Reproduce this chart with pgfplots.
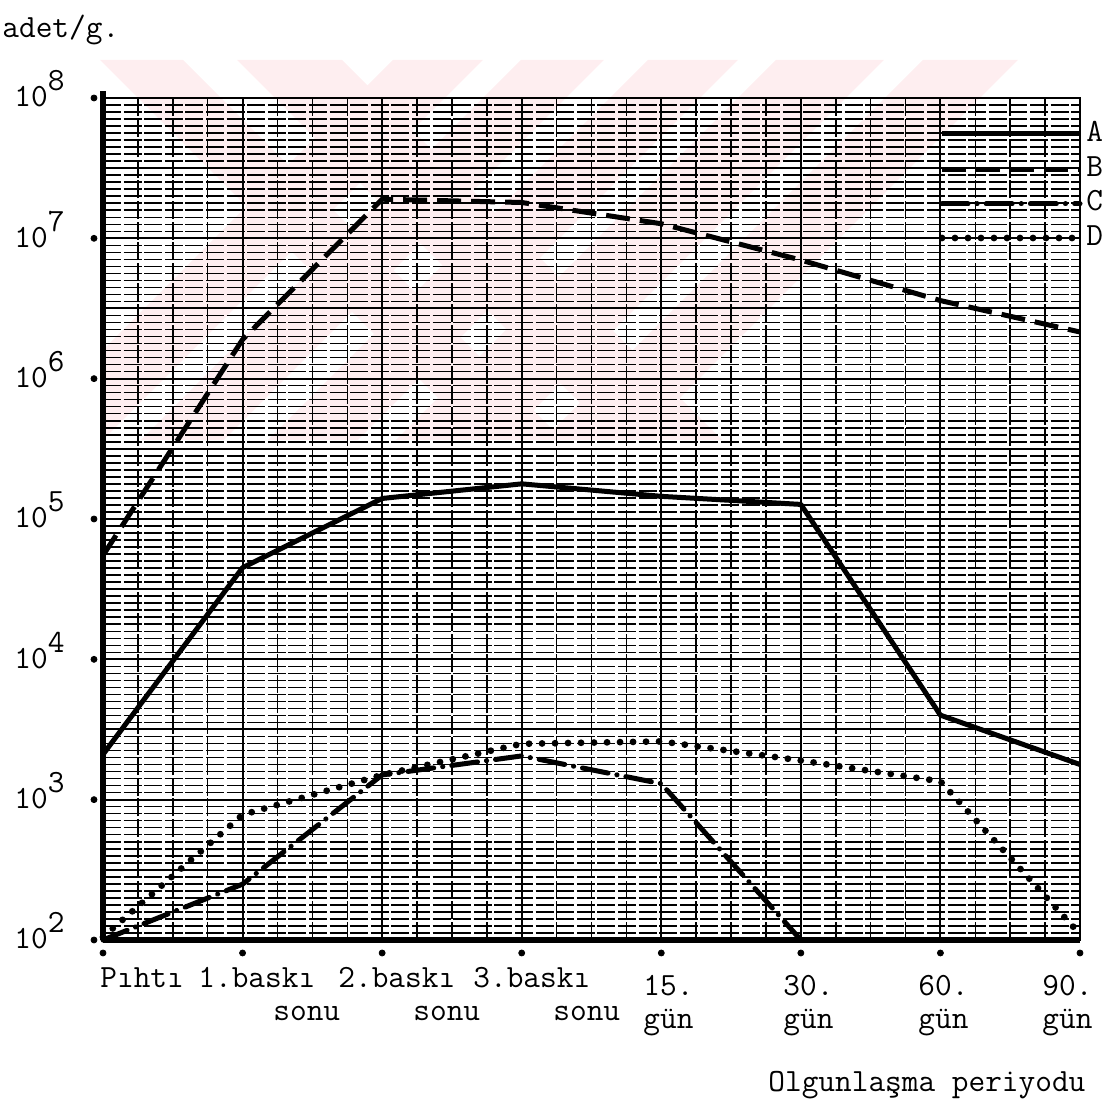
\documentclass[border=0pt]{standalone}
\usepackage{fontspec}
\usepackage{pgfplots}
\pgfplotsset{compat=1.18}
\definecolor{Wm}{RGB}{254,238,240}
\newcommand\tw{\fontsize{16.2pt}{19pt}\selectfont\ttfamily}

\tikzset{
  serA/.style={black, line width=2.5pt, line join=round},
  serB/.style={black, line width=2.5pt, dash pattern=on 12pt off 5pt},
  serC/.style={black, line width=2.5pt, line cap=round, dash pattern=on 13pt off 4.5pt on 0.1pt off 4.5pt},
  serD/.style={black, line width=3.4pt, line cap=round, dash pattern=on 0pt off 6.5pt},
}

\begin{document}
\begin{tikzpicture}
% pixel frame: 1 px = 0.5pt, origin at the lower left corner of the axis box
\begin{scope}[x=0.5pt, y=-0.5pt, shift={(-103,-940)}]
  \useasboundingbox (0,0) rectangle (1118,1111);
  % faint watermark
  \begin{scope}
    \clip (100,60) rectangle (1092,440);
    \foreach \a/\b in {100/183, 237/342}
      \fill[Wm] (\a,60) -- (\b,60) -- (\b+380,440) -- (\a+380,440) -- cycle;
    \foreach \a/\b in {393/483, 521/604, 648/738, 776/884, 923/1018}
      \fill[Wm] (\a,60) -- (\b,60) -- (\b-380,440) -- (\a-380,440) -- cycle;
  \end{scope}
\end{scope}

% graph paper
\begin{axis}[
    at={(0,0)}, anchor=south west,
    scale only axis,
    width=488.5pt, height=421pt,
    xmin=0, xmax=7, ymin=0, ymax=120,
    xtick={0,...,7}, minor x tick num=3,
    ytick={0,10,...,120}, minor y tick num=9,
    xticklabels={}, yticklabels={},
    major tick length=0pt, minor tick length=0pt,
    grid=both,
    major grid style={black, line width=1.0pt},
    minor grid style={black, line width=0.75pt, dash pattern=on 9pt off 1.3pt},
    axis line style={draw=none},
]
\end{axis}

\begin{axis}[
    at={(0,0)}, anchor=south west,
    scale only axis,
    width=488.5pt, height=421pt,
    ymode=log,
    xmin=0, xmax=7,
    ymin=1e2, ymax=1e8,
    xtick={0,...,7},
    xticklabels={},
    ytick={1e2,1e3,1e4,1e5,1e6,1e7,1e8},
    yticklabels={
        {10\raisebox{8pt}{2}},
        {10\raisebox{8pt}{3}},
        {10\raisebox{8pt}{4}},
        {10\raisebox{8pt}{5}},
        {10\raisebox{8pt}{6}},
        {10\raisebox{8pt}{7}},
        {10\raisebox{8pt}{8}}
    },
    yticklabel style={anchor=base east, xshift=-15.7pt, yshift=-4.5pt, font=\tw},
    major tick length=0pt,
    minor tick length=0pt,
    axis line style={black, line width=0.8pt},
    clip=false,
]
\draw[black, line width=3pt] (rel axis cs:0,0) -- (rel axis cs:0,1.008);
\draw[black, line width=2.6pt] (rel axis cs:0,0) -- (rel axis cs:1,0);

% A
\addplot[serA] coordinates {
    (0,2100) (1,45000) (2,140000) (3,178000) (4,145000) (5,127000) (6,4000) (7,1780)
};
% B
\addplot[serB] coordinates {
    (0,55000) (1,1900000) (2,19000000) (3,18000000) (4,12700000) (5,7000000) (6,3600000) (7,2150000)
};
% C
\addplot[serC] coordinates {
    (0,100) (1,250) (2,1500) (3,2050) (4,1300) (5,100)
};
% D
\addplot[serD] coordinates {
    (0,105) (1,780) (2,1500) (3,2500) (4,2600) (5,1900) (6,1350) (7,110)
};

% tick dots
\addplot[only marks, mark=*, mark size=1.5pt, black, mark options={yshift=-6.5pt}]
    coordinates {(0,100) (1,100) (2,100) (3,100) (4,100) (5,100) (6,100) (7,100)};
\addplot[only marks, mark=*, mark size=1.5pt, black, mark options={xshift=-4.5pt}]
    coordinates {(0,1e2) (0,1e3) (0,1e4) (0,1e5) (0,1e6) (0,1e7) (0,1e8)};
\end{axis}

\begin{scope}[x=0.5pt, y=-0.5pt, shift={(-103,-940)}, every node/.style={font=\tw, inner sep=0pt, anchor=base west}]
  % legend
  \draw[serA] (942,134) -- (1080,134);
  \draw[serB] (942,170) -- (1080,170);
  \draw[serC] (942,204) -- (1080,204);
  \draw[serD] (942,238) -- (1080,238);
  \node at (1086,142) {A};
  \node at (1086,177) {B};
  \node at (1086,211) {C};
  \node at (1086,246) {D};
  % titles
  \node at (2,38) {adet/g.};
  \node at (768,1092) {Olgunlaşma periyodu};
  % category labels
  \node at (100,988) {Pıhtı};
  \node at (198,988) {1.baskı};
  \node at (338,988) {2.baskı};
  \node at (473,988) {3.baskı};
  \node at (643,996) {15.};
  \node at (783,996) {30.};
  \node at (918,996) {60.};
  \node at (1042,996) {90.};
  \node at (273,1021) {sonu};
  \node at (413,1021) {sonu};
  \node at (553,1021) {sonu};
  \node at (643,1029) {gün};
  \node at (783,1029) {gün};
  \node at (918,1029) {gün};
  \node at (1042,1029) {gün};
\end{scope}
\end{tikzpicture}
\end{document}
